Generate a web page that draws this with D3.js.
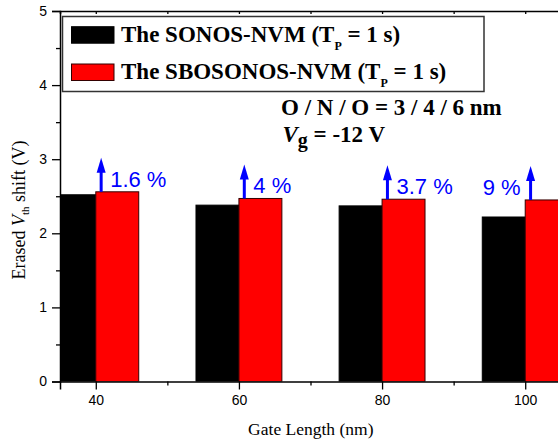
<!DOCTYPE html>
<html><head><meta charset="utf-8">
<script src="https://cdn.jsdelivr.net/npm/d3@7"></script>
<style>body{margin:0;background:#fff}svg{display:block}
.serif{font-family:"Liberation Serif","Times New Roman","DejaVu Serif",serif}
.sans{font-family:"Liberation Sans",Arial,Helvetica,sans-serif}
</style>
</head><body>
<svg id="c" width="558" height="440"></svg>
<script>
const gateLengths = [40, 60, 80, 100];
const sonos = [2.52, 2.38, 2.37, 2.22];
const sbosonos = [2.56, 2.47, 2.46, 2.45];
const increaseLabels = ["1.6 %", "4 %", "3.7 %", "9 %"];
const labelSide = ["right", "right", "right", "left"];
const yTicks = [0, 1, 2, 3, 4, 5];
const xTicks = [40, 60, 80, 100];
const barWidthNm = 6;

const svg = d3.select("#c");
const x = d3.scaleLinear().domain([35, 105]).range([60, 561]);
const y = d3.scaleLinear().domain([0, 5]).range([381.5, 11]);

svg.append("defs").append("clipPath").attr("id","plot")
  .append("rect").attr("x",60).attr("y",11).attr("width",501).attr("height",370.5);

const g = svg.append("g").attr("clip-path","url(#plot)");
g.selectAll(".b1").data(gateLengths).join("rect")
  .attr("x", d => x(d - barWidthNm)).attr("width", (d)=>x(d)-x(d-barWidthNm))
  .attr("y", (d,i) => y(sonos[i])).attr("height", (d,i) => y(0)-y(sonos[i]))
  .attr("fill","#000").attr("stroke","#000").attr("stroke-width",1);
g.selectAll(".b2").data(gateLengths).join("rect")
  .attr("x", d => x(d)).attr("width", (d)=>x(d+barWidthNm)-x(d))
  .attr("y", (d,i) => y(sbosonos[i])).attr("height", (d,i) => y(0)-y(sbosonos[i]))
  .attr("fill","#ff0000").attr("stroke","#300").attr("stroke-width",1);

// axes
const ax = svg.append("g").attr("transform","translate(0,381.5)")
  .call(d3.axisBottom(x).tickValues(xTicks).tickSize(8).tickPadding(6).tickFormat(d3.format("d")));
const axMinor = svg.append("g").attr("transform","translate(0,381.5)")
  .call(d3.axisBottom(x).tickValues([50,70,90]).tickSize(4).tickFormat(""));
const ay = svg.append("g").attr("transform","translate(60,0)")
  .call(d3.axisLeft(y).tickValues(yTicks).tickSize(8).tickPadding(5).tickFormat(d3.format("d")));
const ayMinor = svg.append("g").attr("transform","translate(60,0)")
  .call(d3.axisLeft(y).tickValues([0.5,1.5,2.5,3.5,4.5]).tickSize(4).tickFormat(""));
const atop = svg.append("g").attr("transform","translate(0,11)")
  .call(d3.axisBottom(x).tickValues([40,50,60,70,80,90,100]).tickSize(3).tickFormat(""));
[ax,axMinor,ay,ayMinor,atop].forEach(a=>{
  a.attr("font-family",null).attr("font-size",null);
  a.selectAll("path").attr("stroke","#000").attr("stroke-width",1.5);
  a.selectAll("line").attr("stroke","#000").attr("stroke-width",1.3);
  a.selectAll("text").attr("class","sans").style("font-size","14px").attr("fill","#000");
});
ayMinor.select("path").remove(); axMinor.select("path").remove();

// arrows and labels
const arrowOff = 0.75;
const ag = svg.append("g");
gateLengths.forEach((d,i)=>{
  const ax0 = x(d + arrowOff), yb = y(sbosonos[i]), yt = yb - 34;
  ag.append("line").attr("x1",ax0).attr("x2",ax0).attr("y1",yb).attr("y2",yt+10)
    .attr("stroke","#0000ff").attr("stroke-width",3);
  ag.append("path").attr("d",`M${ax0},${yt} L${ax0-4.5},${yt+15} L${ax0+4.5},${yt+15} Z`).attr("fill","#0000ff");
  const right = labelSide[i] === "right";
  ag.append("text").attr("class","sans").attr("x", right ? ax0 + 9 : ax0 - 10).attr("y", yb - 5)
    .attr("text-anchor", right ? "start" : "end")
    .style("font-size","22px").attr("fill","#0000ff").text(increaseLabels[i]);
});

// legend
const lg = svg.append("g");
lg.append("rect").attr("x",62.5).attr("y",16.5).attr("width",421.5).attr("height",75)
  .attr("fill","#fff").attr("stroke","#333").attr("stroke-width",1.5);
const legendItems = [["The SONOS-NVM (T","#000","#000"],["The SBOSONOS-NVM (T","#ff0000","#300"]];
legendItems.forEach((it,i)=>{
  const by = i===0 ? 41.7 : 79;
  lg.append("rect").attr("x",71.5).attr("y",by-15).attr("width",42.5).attr("height",16.5)
    .attr("fill",it[1]).attr("stroke",it[2]).attr("stroke-width",1);
  const t = lg.append("text").attr("class","serif").attr("x",121).attr("y",by)
    .style("font-weight","bold").style("font-size","23px").attr("fill","#000");
  t.append("tspan").text(it[0]);
  t.append("tspan").style("font-size","12px").attr("dy",8).text("P");
  t.append("tspan").attr("dy",-8).text(" = 1 s)");
});

// annotation
svg.append("text").attr("class","serif").attr("x",281).attr("y",115).style("font-weight","bold")
  .style("font-size","23px").text("O / N / O = 3 / 4 / 6 nm");
const vt = svg.append("text").attr("class","serif").attr("x",282.5).attr("y",141.5).style("font-weight","bold")
  .style("font-size","23px");
vt.append("tspan").style("font-style","italic").text("V");
vt.append("tspan").style("font-size","20px").attr("dy",5).text("g");
vt.append("tspan").attr("dy",-5).text(" = -12 V");

// axis titles
svg.append("text").attr("class","serif").attr("x",310.8).attr("y",435).attr("text-anchor","middle")
  .style("font-size","17.5px").text("Gate Length (nm)");
const yl = svg.append("text").attr("class","serif").attr("transform","translate(25,210) rotate(-90)").attr("text-anchor","middle")
  .style("font-size","18px");
yl.append("tspan").text("Erased ");
yl.append("tspan").style("font-style","italic").text("V");
yl.append("tspan").style("font-size","11px").attr("dy",4).text("th");
yl.append("tspan").attr("dy",-4).text(" shift (V)");
</script>
</body></html>
